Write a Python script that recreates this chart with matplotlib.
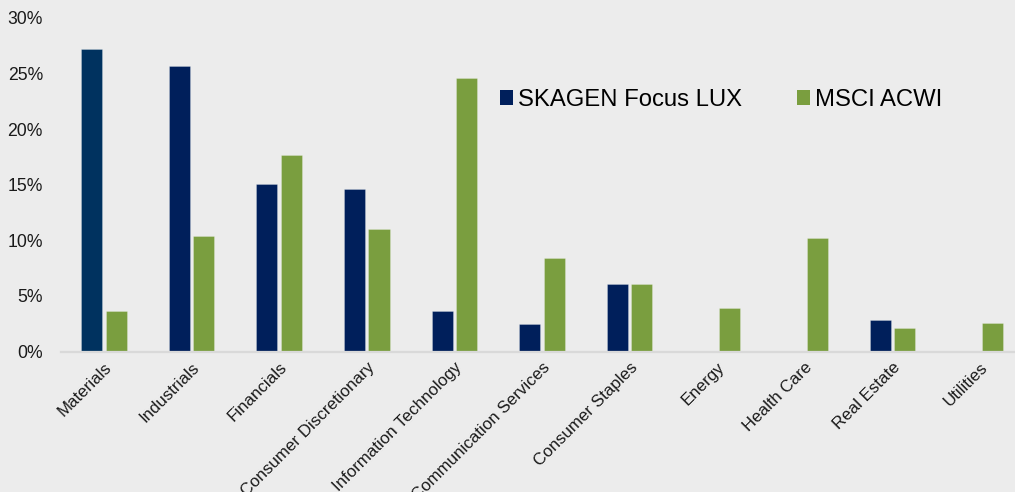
import matplotlib.pyplot as plt
import numpy as np
from matplotlib.patches import Patch

plt.rcParams["font.family"] = ["Liberation Sans", "DejaVu Sans"]

categories = [
    "Materials", "Industrials", "Financials", "Consumer Discretionary",
    "Information Technology", "Communication Services", "Consumer Staples",
    "Energy", "Health Care", "Real Estate", "Utilities",
]
skagen = [27.2, 25.7, 15.1, 14.6, 3.65, 2.5, 6.1, 0.0, 0.0, 2.8, 0.0]
msci = [3.6, 10.4, 17.7, 11.0, 24.6, 8.4, 6.1, 3.9, 10.2, 2.1, 2.6]
yticks = [0, 5, 10, 15, 20, 25, 30]

navy = "#001f5b"
navy_first = "#00325f"
green = "#7a9e3f"
bg = "#ececec"

fig = plt.figure(figsize=(10.15, 4.92), dpi=100, facecolor=bg)
ax = fig.add_axes([61 / 1015, 140.5 / 492, 1 - 61 / 1015, (351.5 - 18) / 492])
ax.set_facecolor(bg)

x = np.arange(len(categories))
w = 0.24
navy_colors = [navy_first] + [navy] * (len(categories) - 1)
ax.bar(x - 0.14, skagen, w, color=navy_colors, edgecolor="#ffffff55", linewidth=0.5)
ax.bar(x + 0.14, msci, w, color=green, edgecolor="#ffffff55", linewidth=0.5)

ax.set_xlim(-0.49, 10.40)
ax.set_ylim(0, 30)
ax.set_yticks(yticks)
ax.set_yticklabels([f"{t}%" for t in yticks], fontsize=12.7, color="#1a1a1a")
ax.set_xticks(x)
ax.set_xticklabels(categories, rotation=45, ha="right", rotation_mode="anchor",
                   fontsize=12.2, color="#1a1a1a")
ax.tick_params(axis="y", length=0, pad=13)
ax.tick_params(axis="x", length=0, pad=6)

for side in ["top", "right", "left"]:
    ax.spines[side].set_visible(False)
ax.spines["bottom"].set_color("#d9d9d9")
ax.spines["bottom"].set_linewidth(1.6)

# legend sits inside the plot area, no frame
handles = [Patch(facecolor=navy, label="SKAGEN Focus LUX"),
           Patch(facecolor=green, label="MSCI ACWI")]
fig.legend(handles=handles, loc="center left", bbox_to_anchor=(500 / 1015, (492 - 100) / 492),
           ncol=2, frameon=False, fontsize=17.2, handlelength=0.55, handleheight=0.55,
           handletextpad=0.2, columnspacing=2.3, borderpad=0, borderaxespad=0)

fig.savefig("out.png", dpi=100, facecolor=bg)
